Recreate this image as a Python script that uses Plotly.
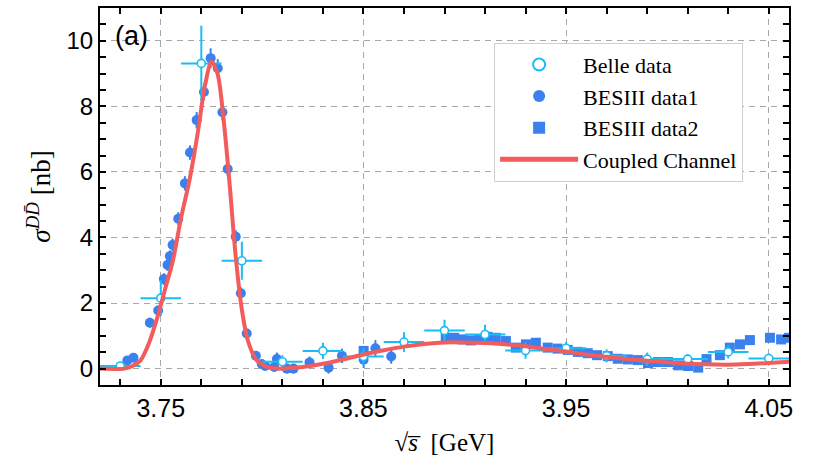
import plotly.graph_objects as go

# ---- Belle measurements (energy bin centre, cross section, errors) ----
belle_x = [3.73, 3.75, 3.77, 3.79, 3.81, 3.83, 3.85, 3.87, 3.89, 3.91,
           3.93, 3.95, 3.97, 3.99, 4.01, 4.03, 4.05]
belle_y = [0.08, 2.15, 9.31, 3.29, 0.21, 0.54, 0.37, 0.81, 1.16, 1.04,
           0.55, 0.62, 0.39, 0.29, 0.29, 0.51, 0.31]
belle_ey = [0.12, 0.55, 1.15, 0.58, 0.20, 0.25, 0.25, 0.30, 0.33, 0.30,
            0.25, 0.20, 0.20, 0.20, 0.15, 0.20, 0.15]
belle_ex = [0.01] * len(belle_x)

# ---- BESIII scan, set 1 ----
bes1_x = [3.7335, 3.7365, 3.7446, 3.7487, 3.7515, 3.7533, 3.7545, 3.7558,
          3.7586, 3.7619, 3.7644, 3.7677, 3.7713, 3.7746, 3.7781, 3.7804,
          3.7830, 3.7870, 3.7895, 3.7924, 3.7969, 3.7998, 3.8015, 3.8060,
          3.8073, 3.8122, 3.8155, 3.8234, 3.8328, 3.8394, 3.8501, 3.8559,
          3.8637]
bes1_y = [0.25, 0.33, 1.40, 1.77, 2.73, 3.16, 3.43, 3.77,
          4.57, 5.65, 6.59, 7.58, 8.44, 9.47, 9.16, 7.82,
          6.09, 4.02, 2.30, 1.07, 0.39, 0.14, 0.08, 0.05,
          0.29, 0.00, 0.00, 0.19, 0.03, 0.39, 0.27, 0.62,
          0.37]
bes1_ey = [0.10, 0.10, 0.15, 0.15, 0.18, 0.18, 0.18, 0.20,
           0.20, 0.22, 0.22, 0.25, 0.25, 0.30, 0.28, 0.25,
           0.22, 0.20, 0.18, 0.15, 0.12, 0.12, 0.12, 0.12,
           0.20, 0.15, 0.15, 0.18, 0.18, 0.22, 0.25, 0.25,
           0.22]

# ---- BESIII scan, set 2 ----
bes2_x = [3.8501, 3.8906, 3.8948, 3.8989, 3.9030, 3.9071, 3.9112, 3.9153,
          3.9203, 3.9252, 3.9302, 3.9351, 3.9409, 3.9458, 3.9508, 3.9558,
          3.9607, 3.9653, 3.9706, 3.9755, 3.9805, 3.9854, 3.9904, 3.9953,
          4.0003, 4.0053, 4.0102, 4.0152, 4.0193, 4.0259, 4.0308, 4.0358,
          4.0407, 4.0506, 4.0561, 4.0599]
bes2_y = [0.54, 0.94, 0.94, 0.89, 0.86, 0.90, 0.97, 0.94,
          0.84, 0.64, 0.74, 0.79, 0.64, 0.61, 0.57, 0.51,
          0.47, 0.41, 0.38, 0.30, 0.28, 0.26, 0.17, 0.20,
          0.20, 0.10, 0.08, 0.03, 0.29, 0.41, 0.64, 0.74,
          0.87, 0.94, 0.89, 0.94]
bes2_ey = [0.10] * len(bes2_x)

# ---- coupled-channel fit ----
fit_x = [3.720, 3.732, 3.736, 3.740, 3.744, 3.748, 3.752, 3.756, 3.760,
         3.764, 3.768, 3.772, 3.775, 3.778, 3.781, 3.784, 3.787, 3.790,
         3.793, 3.797, 3.802, 3.808, 3.815, 3.820, 3.830, 3.840, 3.850,
         3.860, 3.870, 3.880, 3.890, 3.900, 3.910, 3.920, 3.930, 3.940,
         3.950, 3.960, 3.970, 3.980, 3.990, 4.000, 4.010, 4.020, 4.030,
         4.040, 4.050, 4.060]
fit_y = [0.00, 0.00, 0.08, 0.25, 0.75, 1.50, 2.40, 3.30, 4.60,
         5.70, 7.10, 8.70, 9.36, 9.00, 7.60, 5.60, 3.40, 1.80,
         0.85, 0.28, 0.06, 0.00, 0.02, 0.05, 0.15, 0.28, 0.43,
         0.56, 0.67, 0.75, 0.80, 0.80, 0.78, 0.74, 0.68, 0.60,
         0.52, 0.43, 0.36, 0.29, 0.24, 0.19, 0.15, 0.13, 0.12,
         0.14, 0.17, 0.21]

CYAN = "#19bdf5"
BLUE = "#3a80ee"
RED = "#f25c5c"
SERIF = "Liberation Serif"
SANS = "Liberation Sans"

fig = go.Figure()

fig.add_trace(go.Scatter(
    x=bes2_x, y=bes2_y, mode="markers", name="BESIII data2",
    marker=dict(symbol="square", size=10, color=BLUE),
    error_y=dict(type="data", array=bes2_ey, color=BLUE, thickness=2, width=0),
    legendrank=3,
))
fig.add_trace(go.Scatter(
    x=bes1_x, y=bes1_y, mode="markers", name="BESIII data1",
    marker=dict(symbol="circle", size=10, color=BLUE),
    error_y=dict(type="data", array=bes1_ey, color=BLUE, thickness=2, width=0),
    legendrank=2,
))
fig.add_trace(go.Scatter(
    x=belle_x, y=belle_y, mode="markers", name="Belle data",
    marker=dict(symbol="circle", size=8, color="white",
                line=dict(color=CYAN, width=1.6)),
    error_y=dict(type="data", array=belle_ey, color=CYAN, thickness=2, width=0),
    error_x=dict(type="data", array=belle_ex, color=CYAN, thickness=2, width=0),
    legendrank=1,
))
fig.add_trace(go.Scatter(
    x=fit_x, y=fit_y, mode="lines", name="Coupled Channel",
    line=dict(color=RED, width=4, shape="spline", smoothing=0.8),
    legendrank=4,
))

axis_common = dict(
    showline=True, linecolor="black", linewidth=2, mirror="ticks",
    ticks="inside", ticklen=6, tickwidth=1.5, tickcolor="black",
    showgrid=True, gridcolor="#a8a8a8", gridwidth=1, griddash="6px,5px",
    zeroline=False,
)

fig.update_xaxes(
    **axis_common,
    tickfont=dict(family=SANS, size=25, color="black"),
    range=[3.72, 4.06], tick0=3.75, dtick=0.1, tickformat=".2f",
    minor=dict(tick0=3.75, dtick=0.02, ticks="inside", ticklen=6,
               tickwidth=1.5, tickcolor="black", showgrid=False),
    title=dict(text="√<i>s̅</i>  [GeV]",
               font=dict(family=SERIF, size=25, color="black"), standoff=12),
)
fig.update_yaxes(
    **axis_common,
    tickfont=dict(family=SANS, size=24, color="black"),
    range=[-0.5, 11], tick0=0, dtick=2,
    minor=dict(tick0=0, dtick=0.5, ticks="inside", ticklen=6,
               tickwidth=1.5, tickcolor="black", showgrid=False),
    title=dict(text="<i>σ</i><sup><i>D</i><i>D̄</i></sup> [nb]",
               font=dict(family=SERIF, size=27, color="black"), standoff=8),
)

fig.add_annotation(
    text="(a)", xref="paper", yref="paper", x=0.045, y=0.926,
    xanchor="center", yanchor="middle",
    showarrow=False, font=dict(family=SANS, size=27, color="black"),
)

fig.update_layout(
    width=828, height=468,
    margin=dict(l=100, r=39, t=6, b=83),
    plot_bgcolor="white", paper_bgcolor="white",
    legend=dict(
        x=0.572, y=0.908, xanchor="left", yanchor="top",
        bgcolor="white", bordercolor="#d0d0d0", borderwidth=1,
        font=dict(family=SERIF, size=22, color="black"),
        itemwidth=78, itemsizing="constant", traceorder="normal",
    ),
)

fig.write_html("out.html")
